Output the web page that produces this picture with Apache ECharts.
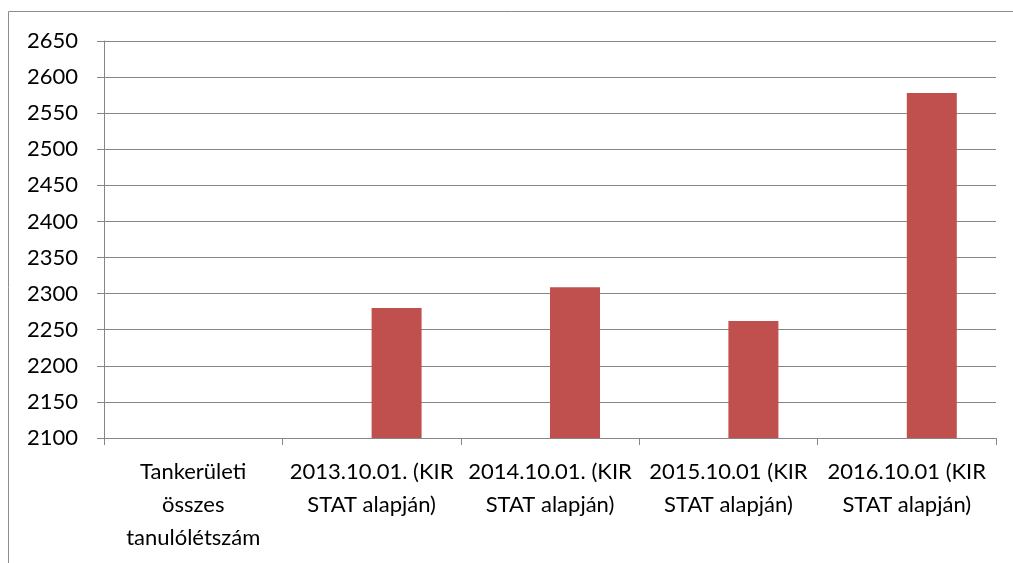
<!DOCTYPE html>
<html>
<head>
<meta charset="utf-8">
<script src="https://cdn.jsdelivr.net/npm/echarts@6/dist/echarts.min.js"></script>
<style>
  html, body { margin: 0; padding: 0; background: #fff; }
  #chart { width: 1013px; height: 563px; }
</style>
</head>
<body>
<div id="chart"></div>
<script>
// categories (x axis)
const categories = [
  'Tankerületi\nösszes\ntanulólétszám',
  '2013.10.01. (KIR\nSTAT alapján)',
  '2014.10.01. (KIR\nSTAT alapján)',
  '2015.10.01 (KIR\nSTAT alapján)',
  '2016.10.01 (KIR\nSTAT alapján)'
]
// first series has nothing visible in the range
const emptySeries = [null, null, null, null, null]
const studentCounts = [null, 2280, 2309, 2262, 2578]

const yMin = 2100
const yMax = 2650
const yStep = 50

const chart = echarts.init(document.getElementById('chart'), null, { renderer: 'canvas' })
const font = 'Lato, "Open Sans", sans-serif'

chart.setOption({
  animation: false,
  grid: {
    left: 104,
    right: 17,
    top: 41,
    bottom: 125,
    containLabel: false
  },
  graphic: [{
    type: 'rect',
    shape: { x: 8.5, y: 11.5, width: 1200, height: 1000 },
    style: { fill: 'none', stroke: '#8c8c8c', lineWidth: 1 }
  }],
  xAxis: {
    type: 'category',
    data: categories,
    axisLine: { lineStyle: { color: '#868686', width: 1 } },
    axisTick: { show: true, length: 7, alignWithLabel: false, lineStyle: { color: '#868686' } },
    axisLabel: {
      interval: 0,
      color: '#000',
      fontFamily: font,
      fontSize: 22,
      lineHeight: 33,
      margin: 17,
      align: 'center'
    }
  },
  yAxis: {
    type: 'value',
    min: yMin,
    max: yMax,
    interval: yStep,
    axisLine: { show: true, lineStyle: { color: '#868686', width: 1 } },
    axisTick: { show: true, length: 7, lineStyle: { color: '#868686' } },
    axisLabel: {
      color: '#000',
      fontFamily: font,
      fontSize: 22,
      margin: 26,
      formatter: v => String(v)
    },
    splitLine: { show: true, lineStyle: { color: '#868686', width: 1 } }
  },
  series: [
    {
      type: 'bar',
      data: emptySeries,
      barWidth: 50,
      barGap: 0,
      itemStyle: { color: '#4F81BD' }
    },
    {
      type: 'bar',
      data: studentCounts,
      barWidth: 50,
      barGap: 0,
      itemStyle: { color: '#C0504D' }
    }
  ]
})
</script>
</body>
</html>
